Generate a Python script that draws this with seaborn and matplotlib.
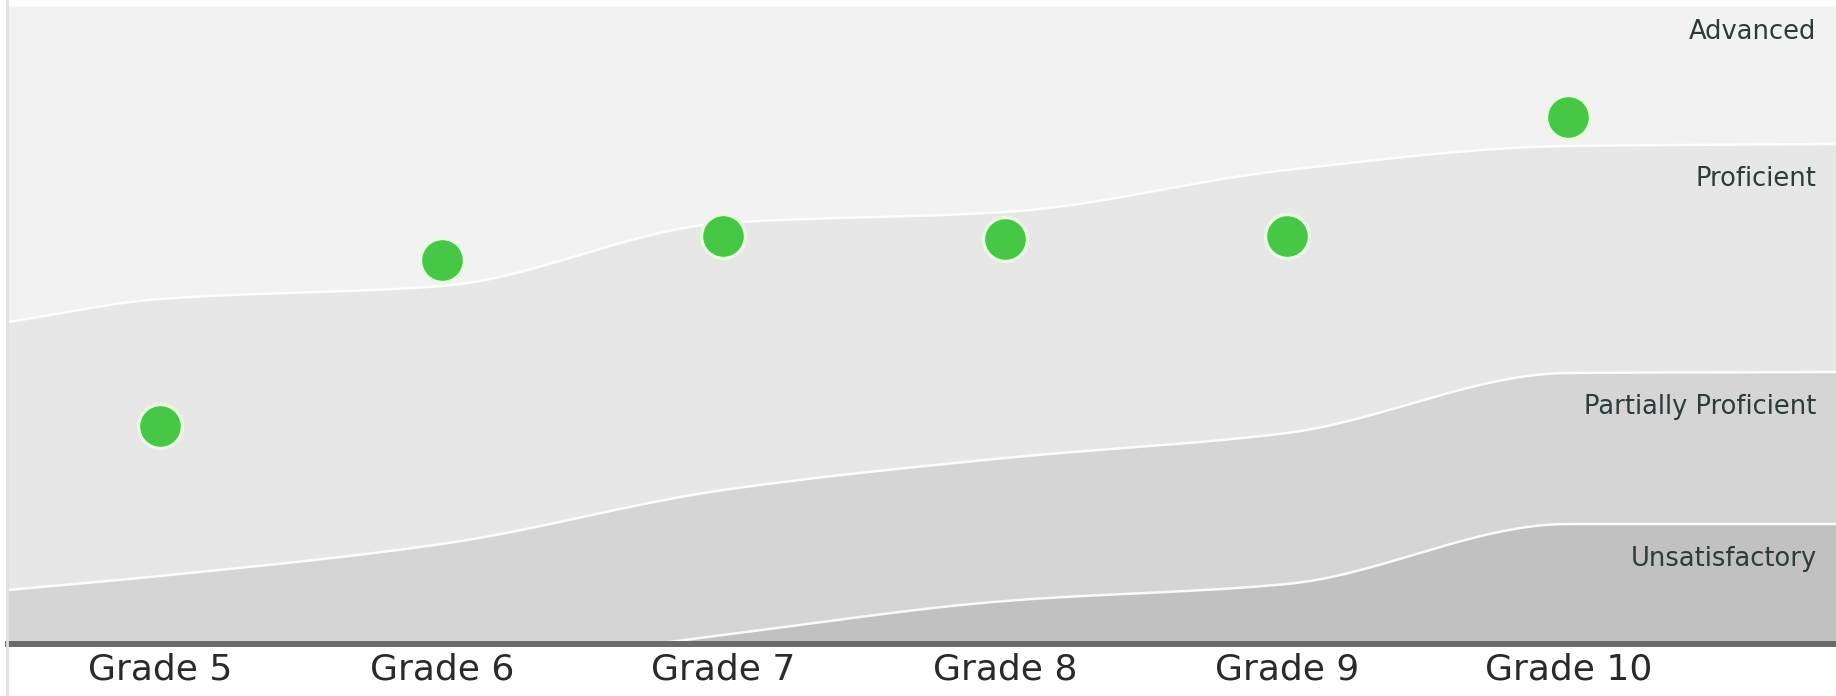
import matplotlib
matplotlib.use("Agg")
import matplotlib.pyplot as plt
from matplotlib.lines import Line2D
import numpy as np
import pandas as pd
import seaborn as sns

# grades along the x axis
grades = ["Grade 5", "Grade 6", "Grade 7", "Grade 8", "Grade 9", "Grade 10"]
# student score for each grade (arbitrary scale, 0 = axis line)
student_score = [218, 384, 408, 405, 408, 527]

# lower cut of each performance band at each grade
advanced_cut = [345, 358, 421, 432, 474, 498]
proficient_cut = [68, 100, 154, 186, 211, 271]
partial_cut = [-60, -28, 9, 43, 60, 120]
# values of the cuts at the left and right edges of the chart
edge_left = {"advanced": 322, "proficient": 54, "partial": -75}
edge_right = {"advanced": 500, "proficient": 272, "partial": 120}

band_names = ["Advanced", "Proficient", "Partially Proficient", "Unsatisfactory"]
band_colors = ["#f2f2f2", "#e7e7e7", "#d5d5d5", "#c1c1c1"]

XMIN, XMAX = -0.54, 5.95
YMAX = 638


def pchip(xk, yk, xs):
    # monotone cubic, used only to draw the smooth band edges
    xk = np.asarray(xk, float)
    yk = np.asarray(yk, float)
    h = np.diff(xk)
    d = np.diff(yk) / h
    m = np.zeros_like(yk)
    for i in range(1, len(yk) - 1):
        if d[i - 1] * d[i] > 0:
            w1 = 2 * h[i] + h[i - 1]
            w2 = h[i] + 2 * h[i - 1]
            m[i] = (w1 + w2) / (w1 / d[i - 1] + w2 / d[i])
    m[0] = d[0]
    m[-1] = d[-1]
    idx = np.clip(np.searchsorted(xk, xs) - 1, 0, len(h) - 1)
    t = (xs - xk[idx]) / h[idx]
    h00 = 2 * t**3 - 3 * t**2 + 1
    h10 = t**3 - 2 * t**2 + t
    h01 = -2 * t**3 + 3 * t**2
    h11 = t**3 - t**2
    return (h00 * yk[idx] + h10 * h[idx] * m[idx]
            + h01 * yk[idx + 1] + h11 * h[idx] * m[idx + 1])


sns.set_style("white")
plt.rcParams["font.family"] = ["DejaVu Sans"]

fig = plt.figure(figsize=(18.36, 6.96), dpi=100)
ax = fig.add_axes([8 / 1836, 52 / 696, 1 - 8 / 1836, 638 / 696])

xpos = np.arange(len(grades))
knots_x = np.concatenate([[XMIN], xpos, [XMAX]])
xs = np.linspace(XMIN, XMAX, 800)

cuts = {}
for key, vals in [("advanced", advanced_cut), ("proficient", proficient_cut),
                  ("partial", partial_cut)]:
    ky = np.concatenate([[edge_left[key]], vals, [edge_right[key]]])
    cuts[key] = pchip(knots_x, ky, xs)

tops = [np.full_like(xs, YMAX), cuts["advanced"], cuts["proficient"], cuts["partial"]]
bottoms = [cuts["advanced"], cuts["proficient"], cuts["partial"], np.full_like(xs, -200)]
for top, bot, col in zip(tops, bottoms, band_colors):
    ax.fill_between(xs, bot, top, color=col, lw=0, zorder=1)

for key in ["advanced", "proficient", "partial"]:
    ax.plot(xs, cuts[key], color="white", lw=1.8, alpha=0.9, zorder=2)

# band names at the right edge
for i, name in enumerate(band_names):
    y_top = YMAX if i == 0 else tops[i][-1]
    off = -19 if i == 0 else -25
    ax.annotate(name, xy=(XMAX, y_top), xytext=(-14, off),
                textcoords="offset points", ha="right", va="center",
                fontsize=18.5, color="#2e3b3b", zorder=4)

df = pd.DataFrame({"grade": xpos, "score": student_score})
sns.scatterplot(data=df, x="grade", y="score", s=1000, color="#46c846",
                edgecolor="#e9fbe3", linewidth=2.4, zorder=5, ax=ax, legend=False)

ax.set_xlim(XMIN, XMAX)
ax.set_ylim(0, YMAX)
ax.set_xticks(xpos)
ax.set_xticklabels(grades, fontsize=26, color="#2a2a2a")
ax.tick_params(axis="x", length=0, pad=6)
ax.set_yticks([])
ax.set_xlabel("")
ax.set_ylabel("")
for side in ["top", "left", "right"]:
    ax.spines[side].set_visible(False)
ax.spines["bottom"].set_color("#6b6b6b")
ax.spines["bottom"].set_linewidth(4.3)
ax.spines["bottom"].set_zorder(6)

fig.add_artist(Line2D([6.5 / 1836, 6.5 / 1836], [0, 1], color="#e0e0e0", lw=2))

fig.savefig("out.png", dpi=100)
